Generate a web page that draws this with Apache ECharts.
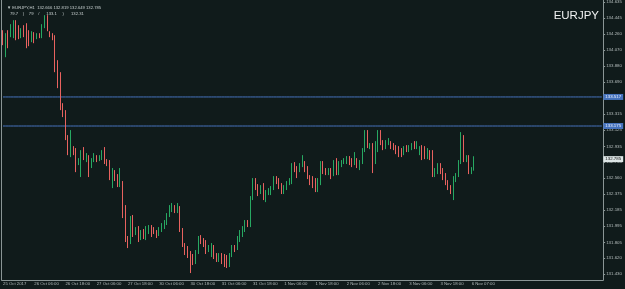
<!DOCTYPE html>
<html>
<head>
<meta charset="utf-8">
<script src="https://cdn.jsdelivr.net/npm/echarts@6/dist/echarts.min.js"></script>
<style>
html, body { margin: 0; padding: 0; background: #101b1b; }
#chart { width: 625px; height: 289px; }
</style>
</head>
<body>
<div id="chart"></div>
<script>
// time axis labels, one every 12 bars
const tickLabels = ['25 Oct 2017', '26 Oct 06:00', '26 Oct 18:00', '27 Oct 06:00', '27 Oct 18:00',
  '30 Oct 06:00', '30 Oct 18:00', '31 Oct 06:00', '31 Oct 18:00', '1 Nov 06:00', '1 Nov 18:00',
  '2 Nov 06:00', '2 Nov 18:00', '3 Nov 06:00', '3 Nov 18:00', '6 Nov 07:00']

// price scale labels
const priceTicks = [134.635, 134.445, 134.260, 134.070, 133.880, 133.690, 133.505, 133.315, 133.125,
  132.935, 132.750, 132.560, 132.375, 132.185, 131.995, 131.805, 131.620, 131.430]

// horizontal levels and current price
const levelLines = [133.517, 133.175]
const lastPrice = 132.785

// H1 bars: [open, close, low, high]
const candles = [
  [134.280, 134.209, 134.127, 134.303], [134.162, 134.232, 133.985, 134.268], [134.268, 134.150, 134.091, 134.303],
  [134.244, 134.338, 134.221, 134.374], [134.244, 134.385, 134.209, 134.421], [134.397, 134.221, 134.185, 134.421],
  [134.338, 134.221, 134.197, 134.362], [134.232, 134.303, 134.209, 134.327], [134.327, 134.244, 134.221, 134.362],
  [134.362, 134.232, 134.091, 134.385], [134.268, 134.232, 134.115, 134.303], [134.185, 134.268, 134.162, 134.291],
  [134.268, 134.174, 134.150, 134.280], [134.221, 134.256, 134.197, 134.268], [134.256, 134.232, 134.209, 134.268],
  [134.221, 134.338, 134.209, 134.374], [134.338, 134.456, 134.327, 134.480], [134.456, 134.303, 134.291, 134.480],
  [134.280, 134.232, 134.221, 134.291], [134.244, 134.221, 134.185, 134.268], [134.221, 133.856, 133.809, 134.244],
  [133.856, 133.774, 133.621, 133.950], [133.774, 133.397, 133.362, 133.809], [133.397, 133.338, 133.280, 133.444],
  [133.338, 133.044, 133.009, 133.362], [133.044, 132.856, 132.832, 133.068], [132.856, 132.915, 132.809, 133.127],
  [132.915, 132.868, 132.832, 132.938], [132.891, 132.738, 132.632, 132.915], [132.738, 132.774, 132.715, 132.797],
  [132.774, 132.856, 132.574, 132.891], [132.880, 132.797, 132.774, 132.927], [132.774, 132.832, 132.750, 132.856],
  [132.809, 132.715, 132.574, 132.832], [132.715, 132.774, 132.680, 132.797], [132.774, 132.832, 132.750, 132.856],
  [132.809, 132.774, 132.750, 132.832], [132.774, 132.809, 132.762, 132.832], [132.797, 132.868, 132.774, 132.891],
  [132.868, 132.738, 132.727, 132.927], [132.762, 132.727, 132.703, 132.785], [132.738, 132.562, 132.538, 132.774],
  [132.538, 132.632, 132.444, 132.680], [132.632, 132.562, 132.527, 132.656], [132.585, 132.479, 132.456, 132.609],
  [132.479, 132.503, 132.456, 132.680], [132.503, 132.127, 132.091, 132.527], [132.185, 131.832, 131.809, 132.244],
  [131.844, 131.809, 131.738, 131.880], [131.809, 132.091, 131.785, 132.115], [132.103, 131.891, 131.868, 132.127],
  [131.915, 131.962, 131.891, 131.985], [131.974, 131.832, 131.809, 131.997], [131.856, 131.927, 131.832, 131.950],
  [131.938, 131.868, 131.844, 131.962], [131.856, 131.962, 131.832, 131.997], [131.927, 131.985, 131.903, 132.009],
  [131.985, 131.891, 131.868, 132.009], [131.962, 131.927, 131.903, 131.985], [131.927, 131.880, 131.856, 131.950],
  [131.903, 131.962, 131.880, 131.985], [131.950, 132.009, 131.927, 132.032], [131.985, 132.044, 131.962, 132.068],
  [132.032, 132.127, 132.009, 132.150], [132.127, 132.221, 132.103, 132.244], [132.185, 132.244, 132.162, 132.268],
  [132.221, 132.162, 132.150, 132.244], [132.162, 132.221, 132.150, 132.268], [132.209, 131.950, 131.927, 132.232],
  [131.950, 131.774, 131.750, 131.974], [131.774, 131.691, 131.656, 131.797], [131.738, 131.656, 131.621, 131.762],
  [131.679, 131.574, 131.444, 131.703], [131.644, 131.574, 131.538, 131.668], [131.574, 131.691, 131.550, 131.715],
  [131.691, 131.856, 131.668, 131.880], [131.856, 131.809, 131.785, 131.891], [131.832, 131.774, 131.750, 131.856],
  [131.809, 131.691, 131.668, 131.832], [131.715, 131.750, 131.691, 131.774], [131.656, 131.774, 131.632, 131.797],
  [131.750, 131.632, 131.609, 131.774], [131.656, 131.597, 131.574, 131.679], [131.597, 131.656, 131.574, 131.679],
  [131.656, 131.574, 131.550, 131.679], [131.644, 131.538, 131.515, 131.668], [131.621, 131.527, 131.503, 131.656],
  [131.538, 131.656, 131.515, 131.679], [131.656, 131.750, 131.632, 131.774], [131.750, 131.715, 131.691, 131.774],
  [131.738, 131.856, 131.715, 131.880], [131.832, 131.927, 131.809, 131.950], [131.891, 131.974, 131.868, 131.997],
  [131.950, 132.044, 131.927, 132.068], [132.044, 132.009, 131.985, 132.068], [132.009, 132.327, 131.985, 132.350],
  [132.327, 132.538, 132.303, 132.562], [132.538, 132.456, 132.421, 132.562], [132.468, 132.385, 132.350, 132.491],
  [132.397, 132.456, 132.374, 132.479], [132.479, 132.327, 132.303, 132.503], [132.303, 132.397, 132.279, 132.421],
  [132.385, 132.421, 132.362, 132.444], [132.385, 132.444, 132.362, 132.468], [132.444, 132.562, 132.421, 132.585],
  [132.562, 132.515, 132.491, 132.585], [132.538, 132.456, 132.432, 132.562], [132.479, 132.397, 132.374, 132.503],
  [132.397, 132.456, 132.374, 132.479], [132.444, 132.503, 132.421, 132.527], [132.503, 132.538, 132.479, 132.562],
  [132.515, 132.715, 132.491, 132.738], [132.715, 132.656, 132.632, 132.750], [132.680, 132.597, 132.562, 132.703],
  [132.656, 132.715, 132.632, 132.738], [132.715, 132.738, 132.691, 132.832], [132.738, 132.656, 132.632, 132.762],
  [132.680, 132.574, 132.550, 132.703], [132.574, 132.503, 132.479, 132.597], [132.562, 132.479, 132.444, 132.585],
  [132.538, 132.421, 132.397, 132.562], [132.421, 132.538, 132.397, 132.562], [132.515, 132.738, 132.479, 132.762],
  [132.738, 132.644, 132.609, 132.762], [132.656, 132.621, 132.597, 132.680], [132.621, 132.656, 132.597, 132.680],
  [132.656, 132.574, 132.550, 132.680], [132.621, 132.750, 132.585, 132.774], [132.774, 132.632, 132.597, 132.797],
  [132.632, 132.738, 132.597, 132.762], [132.715, 132.750, 132.691, 132.774], [132.750, 132.774, 132.727, 132.797],
  [132.750, 132.797, 132.727, 132.821], [132.797, 132.738, 132.715, 132.821], [132.774, 132.715, 132.691, 132.797],
  [132.738, 132.809, 132.715, 132.868], [132.774, 132.715, 132.680, 132.797], [132.680, 132.750, 132.656, 132.774],
  [132.750, 132.891, 132.727, 132.915], [132.891, 133.033, 132.868, 133.127], [133.033, 132.950, 132.915, 133.127],
  [132.927, 132.950, 132.903, 132.974], [132.950, 132.750, 132.621, 132.974], [132.750, 132.974, 132.727, 132.997],
  [132.891, 133.103, 132.868, 133.127], [133.103, 132.974, 132.950, 133.127], [132.985, 132.915, 132.891, 133.009],
  [132.927, 132.985, 132.903, 133.009], [132.974, 133.009, 132.950, 133.033], [132.974, 132.927, 132.903, 132.997],
  [132.950, 132.915, 132.891, 132.974], [132.927, 132.868, 132.844, 132.950], [132.915, 132.832, 132.809, 132.938],
  [132.891, 132.832, 132.809, 132.915], [132.856, 132.915, 132.832, 132.938], [132.927, 132.891, 132.868, 132.950],
  [132.891, 132.927, 132.868, 132.950], [132.915, 132.950, 132.891, 132.974], [132.974, 132.927, 132.903, 132.997],
  [132.927, 132.974, 132.903, 132.997], [132.856, 132.915, 132.832, 132.938], [132.927, 132.809, 132.774, 132.950],
  [132.915, 132.809, 132.785, 132.938], [132.809, 132.891, 132.785, 132.915], [132.868, 132.797, 132.774, 132.891],
  [132.809, 132.597, 132.574, 132.891], [132.597, 132.632, 132.574, 132.680], [132.632, 132.715, 132.609, 132.738],
  [132.715, 132.632, 132.609, 132.738], [132.656, 132.562, 132.538, 132.680], [132.597, 132.503, 132.479, 132.621],
  [132.515, 132.444, 132.421, 132.538], [132.456, 132.397, 132.374, 132.479], [132.397, 132.562, 132.303, 132.585],
  [132.538, 132.597, 132.515, 132.621], [132.597, 132.750, 132.574, 132.774], [132.750, 133.044, 132.727, 133.103],
  [133.044, 132.774, 132.750, 133.068], [132.774, 132.809, 132.750, 132.832], [132.809, 132.632, 132.609, 132.832],
  [132.632, 132.668, 132.609, 132.691], [132.666, 132.785, 132.649, 132.819]
]

const slotCount = 231 // bar slots across the chart, the rest is right-side shift
const categories = []
for (let i = 0; i < slotCount; i++) categories.push(String(i))

const axisColor = '#8a9595'
const textColor = '#b4bcbc'
const upColor = '#27a862'
const downColor = '#e8625f'
const lineBlue = '#4673bd'
const fmt3 = v => Number(v).toFixed(3)

// 水平线 + 右侧价格框（用常数折线画）
const levelSeries = (value, lineColor, boxColor, textCol) => ({
  type: 'line',
  data: categories.map(() => value),
  silent: true,
  showSymbol: false,
  symbol: 'none',
  z: 3,
  lineStyle: { color: lineColor, width: 1 },
  endLabel: {
    show: true, distance: 1.5, formatter: fmt3(value),
    backgroundColor: boxColor, color: textCol, fontSize: 4.4, padding: [1, 2]
  }
})

const myChart = echarts.init(document.getElementById('chart'))

const options = {
  backgroundColor: '#101b1b',
  animation: false,
  textStyle: { fontFamily: 'Liberation Sans' },
  title: [
    {
      text: '▼ EURJPY,H1  132.666 132.819 132.649 132.785',
      left: 2, top: 1,
      textStyle: { color: '#c8d0d0', fontSize: 4.2, fontWeight: 'normal', fontFamily: 'Liberation Sans' }
    },
    {
      text: '79.7    )    79    /      133.1     )      132.31',
      left: 5, top: 7,
      textStyle: { color: '#c8d0d0', fontSize: 4.2, fontWeight: 'normal', fontFamily: 'Liberation Sans' }
    },
    {
      text: 'EURJPY',
      right: 21, top: 5,
      textStyle: { color: '#f0f2f2', fontSize: 11.5, fontWeight: 'normal', fontFamily: 'Liberation Sans' }
    }
  ],
  grid: { left: 1, right: 19, top: 0, bottom: 9 },
  xAxis: {
    type: 'category',
    data: categories,
    boundaryGap: true,
    axisLine: { lineStyle: { color: axisColor } },
    axisTick: {
      alignWithLabel: true,
      interval: (i) => i % 12 === 0,
      length: 2,
      lineStyle: { color: axisColor }
    },
    axisLabel: {
      interval: (i) => i % 12 === 0,
      formatter: (v, i) => tickLabels[Math.round(i / 12)] || '',
      align: 'left',
      color: textColor,
      fontSize: 4.3,
      margin: 2
    },
    splitLine: { show: false }
  },
  yAxis: [
    {
      type: 'value',
      position: 'right',
      min: 131.362,
      max: 134.656,
      axisLine: { show: true, lineStyle: { color: axisColor } },
      axisTick: { show: true, length: 2, customValues: priceTicks, lineStyle: { color: axisColor } },
      axisLabel: { customValues: priceTicks, formatter: fmt3, color: textColor, fontSize: 4.4, margin: 3 },
      splitLine: { show: false }
    },
    {
      // 左边框
      type: 'value',
      position: 'left',
      min: 131.362,
      max: 134.656,
      axisLine: { show: true, lineStyle: { color: axisColor } },
      axisTick: { show: false },
      axisLabel: { show: false },
      splitLine: { show: false }
    }
  ],
  series: [
    {
      type: 'candlestick',
      data: candles,
      barWidth: 1.2,
      z: 4,
      itemStyle: {
        color: upColor,
        color0: downColor,
        borderColor: upColor,
        borderColor0: downColor,
        borderWidth: 1
      }
    },
    ...levelLines.map(v => levelSeries(v, lineBlue, lineBlue, '#eef3ff')),
    levelSeries(lastPrice, 'rgba(0,0,0,0)', '#dde6e6', '#111')
  ]
}
myChart.setOption(options)
</script>
</body>
</html>
